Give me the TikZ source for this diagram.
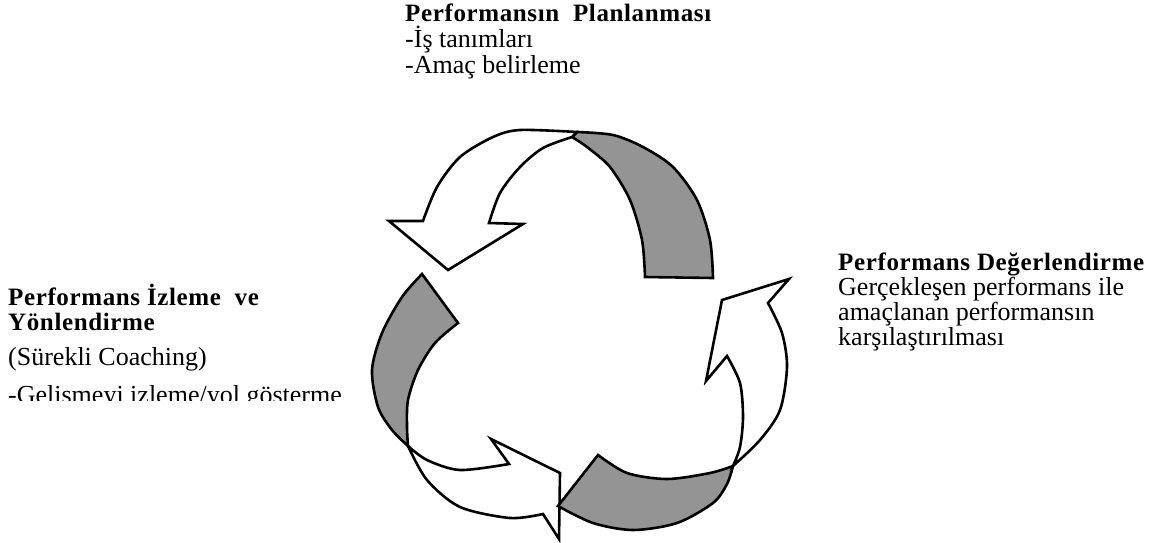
\documentclass[tikz,border=0pt]{standalone}
\usepackage{fontspec}
\setmainfont{Liberation Serif}
\newfontfamily\headfont[LetterSpace=2.5]{Liberation Serif}
\definecolor{stipple}{gray}{0.58}
\tikzset{
  ribbon/.style={draw=black, line width=2.6pt, fill=white, line join=miter},
  ribbonback/.style={ribbon, fill=stipple},
  head/.style={anchor=base west, inner sep=0pt, font=\headfont\bfseries\fontsize{25}{25}\selectfont},
  body/.style={anchor=base west, inner sep=0pt, font=\fontsize{26}{26}\selectfont},
}
\begin{document}
\begin{tikzpicture}[x=1pt, y=-1pt]
\useasboundingbox (0,0) rectangle (1172,543);
% top arrow: back side, then front with head
\draw[ribbonback] (645,277) -- (713,278)
  -- plot[smooth] coordinates {(713,278) (710,240) (697,200) (673,167) (643,147) (613,135) (577,132)}
  -- plot[smooth] coordinates {(572,137) (587,147) (610,167) (630,200) (642,240) (645,277)} -- cycle;
\draw[ribbon] (577,132)
  -- plot[smooth] coordinates {(577,132) (520,130) (493,137) (460,157) (437,187) (423,221)}
  -- (389,221) -- (448,270) -- (523,224) -- (489,223)
  -- plot[smooth] coordinates {(489,223) (500,193) (520,167) (543,148) (572,137)} -- cycle;
% left arrow
\draw[ribbonback] (422,274) -- (458,323)
  -- plot[smooth] coordinates {(458,323) (435,343) (418,370) (408,400) (407,427) (408,446)}
  -- plot[smooth] coordinates {(408,446) (392,430) (378,407) (372,370) (382,333) (402,297) (422,274)} -- cycle;
\draw[ribbon] (408,446)
  -- plot[smooth] coordinates {(408,446) (427,480) (460,507) (510,518) (543,514)}
  -- (559,539) -- (560,473) -- (491,439) -- (509,464)
  -- plot[smooth] coordinates {(509,464) (460,470) (427,460) (408,446)} -- cycle;
% bottom arrow
\draw[ribbonback] (598,455) -- (558,506)
  -- plot[smooth] coordinates {(558,506) (593,523) (633,530) (677,523) (713,503) (727,484) (733,466)}
  -- plot[smooth] coordinates {(733,466) (710,473) (667,479) (627,473) (598,455)} -- cycle;
\draw[ribbon] (733,466)
  -- plot[smooth] coordinates {(733,466) (740,447) (743,417) (740,383) (727,356)}
  -- (706,381) -- (722,300) -- (789,279) -- (768,303)
  -- plot[smooth] coordinates {(768,303) (782,333) (787,367) (780,410) (760,440) (733,466)} -- cycle;
% texts
\node[head] (plan) at (405,22) {Performansın~ Planlanması};
\node[body] (planjob) at (405,48) {-İş tanımları};
\node[body] (plangoal) at (405,74) {-Amaç belirleme};
\node[head] (eval) at (838,270) {Performans Değerlendirme};
\node[body] (evalA) at (838,295) {Gerçekleşen performans ile};
\node[body] (evalB) at (838,320) {amaçlanan performansın};
\node[body] (evalC) at (838,345) {karşılaştırılması};
\node[head] (track) at (8,305) {Performans İzleme~ ve};
\node[head] (trackB) at (8,330) {Yönlendirme};
\node[body] (coach) at (8,365) {(Sürekli Coaching)};
\begin{scope}
  \clip (0,0) rectangle (400,400);
  \node[body] (guide) at (8,403) {-Gelismeyi izleme/yol gösterme};
\end{scope}
\end{tikzpicture}
\end{document}
